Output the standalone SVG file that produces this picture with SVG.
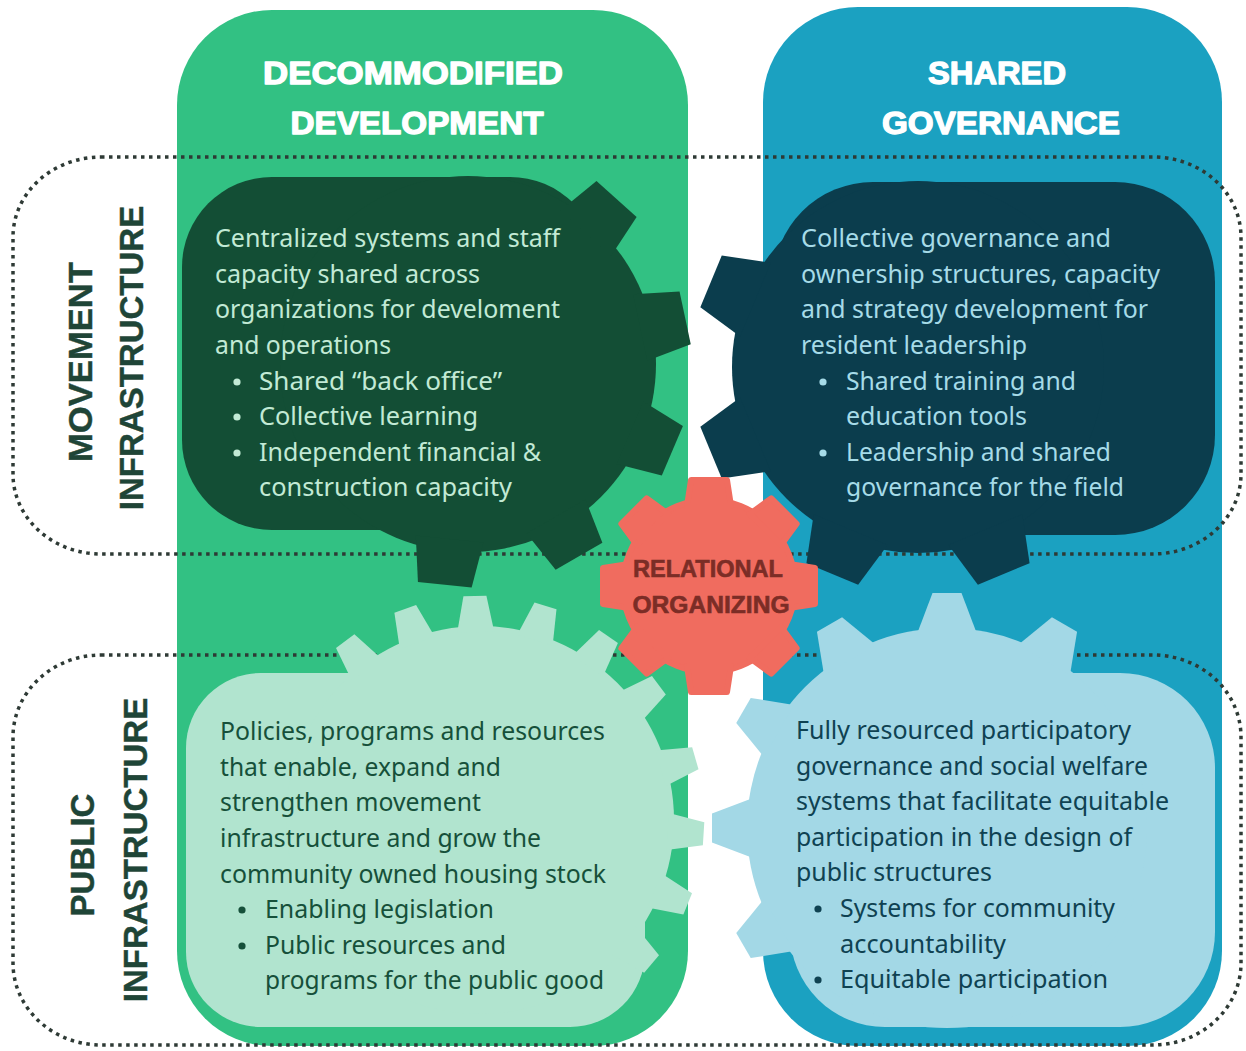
<svg xmlns="http://www.w3.org/2000/svg" width="1246" height="1051" viewBox="0 0 1246 1051">
  <defs>
    <style>
      .col-green{fill:#32c183}
      .col-blue{fill:#1ba1c1}
      .head{font-family:"Liberation Sans",Arial,sans-serif;font-weight:700;font-size:31px;fill:#fff;stroke:#fff;stroke-width:1.3;stroke-linejoin:round;text-anchor:middle}
      .side{font-family:"Liberation Sans",Arial,sans-serif;font-weight:700;font-size:33px;fill:#1f4537;stroke:#1f4537;stroke-width:0.4;text-anchor:middle}
      .dots{fill:none;stroke:#2e3a35;stroke-width:3.5;stroke-dasharray:3.5 4.5}
      .copy{font-family:"Noto Sans","Open Sans",sans-serif;font-size:25px}
      .g-dark{fill:#134e35}
      .b-dark{fill:#0b3d4d}
      .g-light{fill:#b1e4cf}
      .b-light{fill:#a3d8e6}
      .red{fill:#f06c5f;stroke:#f06c5f;stroke-width:6;stroke-linejoin:round}
      .t-gd{fill:#c2ead5}
      .t-bd{fill:#a6dbe8}
      .t-gl{fill:#16503a}
      .t-bl{fill:#0f4252}
      .red-label{font-family:"Liberation Sans",Arial,sans-serif;font-weight:700;font-size:23.5px;fill:#7b2d26;stroke:#7b2d26;stroke-width:0.6;text-anchor:middle}
    </style>
    <!-- tooth profiles, pointing along +x from the gear centre -->
    <polygon id="tooth-dg" points="176,-34 222,-27 222,27 176,34"/>
    <polygon id="tooth-db" points="176,-40 224,-28 224,28 176,40"/>
    <polygon id="tooth-lg" points="188,-18.5 224,-11.5 224,11.5 188,18.5"/>
    <polygon id="tooth-lb" points="194,-30 235,-14.5 235,14.5 194,30"/>
    <polygon id="tooth-rd" points="80,-22 106,-18 106,18 80,22"/>
  </defs>

  <rect width="1246" height="1051" fill="#fff"/>

  <!-- columns -->
  <g id="col-decommodified">
    <rect class="col-green" x="177" y="10" width="511" height="1036" rx="95"/>
    <text class="head" x="413" y="84" textLength="300" lengthAdjust="spacingAndGlyphs">DECOMMODIFIED</text>
    <text class="head" x="417" y="134" textLength="253" lengthAdjust="spacingAndGlyphs">DEVELOPMENT</text>
  </g>
  <g id="col-shared">
    <rect class="col-blue" x="763" y="7" width="459" height="1039" rx="95"/>
    <text class="head" x="997" y="84" textLength="138" lengthAdjust="spacingAndGlyphs">SHARED</text>
    <text class="head" x="1001" y="134" textLength="238" lengthAdjust="spacingAndGlyphs">GOVERNANCE</text>
  </g>

  <!-- dotted row bands -->
  <g id="bands">
    <rect class="dots" x="13" y="157" width="1228" height="397" rx="88" ry="80"/>
    <rect class="dots" x="13" y="655" width="1228" height="390" rx="88" ry="82"/>
  </g>

  <g id="label-movement">
    <text class="side" transform="translate(92 362) rotate(-90)" textLength="200" lengthAdjust="spacingAndGlyphs">MOVEMENT</text>
    <text class="side" transform="translate(143 358) rotate(-90)">INFRASTRUCTURE</text>
  </g>
  <g id="label-public">
    <text class="side" transform="translate(94 855) rotate(-90)">PUBLIC</text>
    <text class="side" transform="translate(147 850) rotate(-90)">INFRASTRUCTURE</text>
  </g>

  <!-- movement / decommodified development -->
  <g id="gear-movement-development">
    <g class="g-dark">
      <rect x="182" y="177" width="418" height="353" rx="90"/>
      <g transform="translate(468 364)">
        <circle r="188"/>
        <use href="#tooth-dg" transform="rotate(-48)"/>
        <use href="#tooth-dg" transform="rotate(-12)"/>
        <use href="#tooth-dg" transform="rotate(23)"/>
        <use href="#tooth-dg" transform="rotate(60)"/>
        <use href="#tooth-dg" transform="rotate(96)"/>
      </g>
    </g>
    <g class="copy t-gd">
      <text x="215" y="247" textLength="345" lengthAdjust="spacingAndGlyphs">Centralized systems and staff</text>
      <text x="215" y="283" textLength="265" lengthAdjust="spacingAndGlyphs">capacity shared across</text>
      <text x="215" y="318" textLength="345" lengthAdjust="spacingAndGlyphs">organizations for develoment</text>
      <text x="215" y="354" textLength="176" lengthAdjust="spacingAndGlyphs">and operations</text>
      <circle cx="237" cy="382" r="3.6"/>
      <text x="259" y="390" textLength="243" lengthAdjust="spacingAndGlyphs">Shared “back office”</text>
      <circle cx="237" cy="417" r="3.6"/>
      <text x="259" y="425" textLength="219" lengthAdjust="spacingAndGlyphs">Collective learning</text>
      <circle cx="237" cy="453" r="3.6"/>
      <text x="259" y="461" textLength="282" lengthAdjust="spacingAndGlyphs">Independent financial &amp;</text>
      <text x="259" y="496" textLength="253" lengthAdjust="spacingAndGlyphs">construction capacity</text>
    </g>
  </g>

  <!-- movement / shared governance -->
  <g id="gear-movement-governance">
    <g class="b-dark">
      <rect x="773" y="182" width="442" height="353" rx="100"/>
      <g transform="translate(918 367)">
        <circle r="186"/>
        <use href="#tooth-db" transform="rotate(202.5)"/>
        <use href="#tooth-db" transform="rotate(157.5)"/>
        <use href="#tooth-db" transform="rotate(112.5)"/>
        <use href="#tooth-db" transform="rotate(67.5)"/>
      </g>
    </g>
    <g class="copy t-bd">
      <text x="801" y="247" textLength="310" lengthAdjust="spacingAndGlyphs">Collective governance and</text>
      <text x="801" y="283" textLength="359" lengthAdjust="spacingAndGlyphs">ownership structures, capacity</text>
      <text x="801" y="318" textLength="347" lengthAdjust="spacingAndGlyphs">and strategy development for</text>
      <text x="801" y="354" textLength="226" lengthAdjust="spacingAndGlyphs">resident leadership</text>
      <circle cx="823" cy="382" r="3.6"/>
      <text x="846" y="390" textLength="230" lengthAdjust="spacingAndGlyphs">Shared training and</text>
      <text x="846" y="425" textLength="181" lengthAdjust="spacingAndGlyphs">education tools</text>
      <circle cx="823" cy="453" r="3.6"/>
      <text x="846" y="461" textLength="265" lengthAdjust="spacingAndGlyphs">Leadership and shared</text>
      <text x="846" y="496" textLength="278" lengthAdjust="spacingAndGlyphs">governance for the field</text>
    </g>
  </g>

  <!-- public / decommodified development -->
  <g id="gear-public-development">
    <g class="g-light">
      <rect x="186" y="673" width="459" height="354" rx="75"/>
      <g transform="translate(480 820)">
        <circle r="194"/>
        <use href="#tooth-lg" transform="rotate(-127)"/>
        <use href="#tooth-lg" transform="rotate(-109.5)"/>
        <use href="#tooth-lg" transform="rotate(-91.3)"/>
        <use href="#tooth-lg" transform="rotate(-73)"/>
        <use href="#tooth-lg" transform="rotate(-55)"/>
        <use href="#tooth-lg" transform="rotate(-37)"/>
        <use href="#tooth-lg" transform="rotate(-16)"/>
        <use href="#tooth-lg" transform="rotate(3.5)"/>
        <use href="#tooth-lg" transform="rotate(22)"/>
        <use href="#tooth-lg" transform="rotate(40)"/>
      </g>
    </g>
    <g class="copy t-gl">
      <text x="220" y="740" textLength="385" lengthAdjust="spacingAndGlyphs">Policies, programs and resources</text>
      <text x="220" y="776" textLength="281" lengthAdjust="spacingAndGlyphs">that enable, expand and</text>
      <text x="220" y="811" textLength="261" lengthAdjust="spacingAndGlyphs">strengthen movement</text>
      <text x="220" y="847" textLength="321" lengthAdjust="spacingAndGlyphs">infrastructure and grow the</text>
      <text x="220" y="883" textLength="386" lengthAdjust="spacingAndGlyphs">community owned housing stock</text>
      <circle cx="242" cy="910" r="3.6"/>
      <text x="265" y="918" textLength="229" lengthAdjust="spacingAndGlyphs">Enabling legislation</text>
      <circle cx="242" cy="946" r="3.6"/>
      <text x="265" y="954" textLength="241" lengthAdjust="spacingAndGlyphs">Public resources and</text>
      <text x="265" y="989" textLength="339" lengthAdjust="spacingAndGlyphs">programs for the public good</text>
    </g>
  </g>

  <!-- public / shared governance -->
  <g id="gear-public-governance">
    <g class="b-light">
      <rect x="790" y="673" width="425" height="354" rx="95"/>
      <g transform="translate(947 828)">
        <circle r="200"/>
        <use href="#tooth-lb" transform="rotate(-60)"/>
        <use href="#tooth-lb" transform="rotate(-90)"/>
        <use href="#tooth-lb" transform="rotate(-120)"/>
        <use href="#tooth-lb" transform="rotate(-150)"/>
        <use href="#tooth-lb" transform="rotate(180)"/>
        <use href="#tooth-lb" transform="rotate(150)"/>
      </g>
    </g>
    <g class="copy t-bl">
      <text x="796" y="739" textLength="335" lengthAdjust="spacingAndGlyphs">Fully resourced participatory</text>
      <text x="796" y="775" textLength="352" lengthAdjust="spacingAndGlyphs">governance and social welfare</text>
      <text x="796" y="810" textLength="373" lengthAdjust="spacingAndGlyphs">systems that facilitate equitable</text>
      <text x="796" y="846" textLength="336" lengthAdjust="spacingAndGlyphs">participation in the design of</text>
      <text x="796" y="881" textLength="196" lengthAdjust="spacingAndGlyphs">public structures</text>
      <circle cx="818" cy="909" r="3.6"/>
      <text x="840" y="917" textLength="275" lengthAdjust="spacingAndGlyphs">Systems for community</text>
      <text x="840" y="953" textLength="166" lengthAdjust="spacingAndGlyphs">accountability</text>
      <circle cx="818" cy="980" r="3.6"/>
      <text x="840" y="988" textLength="268" lengthAdjust="spacingAndGlyphs">Equitable participation</text>
    </g>
  </g>

  <!-- centre gear -->
  <g id="gear-relational-organizing">
    <g class="red" transform="translate(709 586)">
      <circle r="86"/>
      <use href="#tooth-rd" transform="rotate(0)"/>
      <use href="#tooth-rd" transform="rotate(45)"/>
      <use href="#tooth-rd" transform="rotate(90)"/>
      <use href="#tooth-rd" transform="rotate(135)"/>
      <use href="#tooth-rd" transform="rotate(180)"/>
      <use href="#tooth-rd" transform="rotate(225)"/>
      <use href="#tooth-rd" transform="rotate(270)"/>
      <use href="#tooth-rd" transform="rotate(315)"/>
    </g>
    <text class="red-label" x="708" y="577" textLength="150" lengthAdjust="spacingAndGlyphs">RELATIONAL</text>
    <text class="red-label" x="711" y="613" textLength="157" lengthAdjust="spacingAndGlyphs">ORGANIZING</text>
  </g>
</svg>
